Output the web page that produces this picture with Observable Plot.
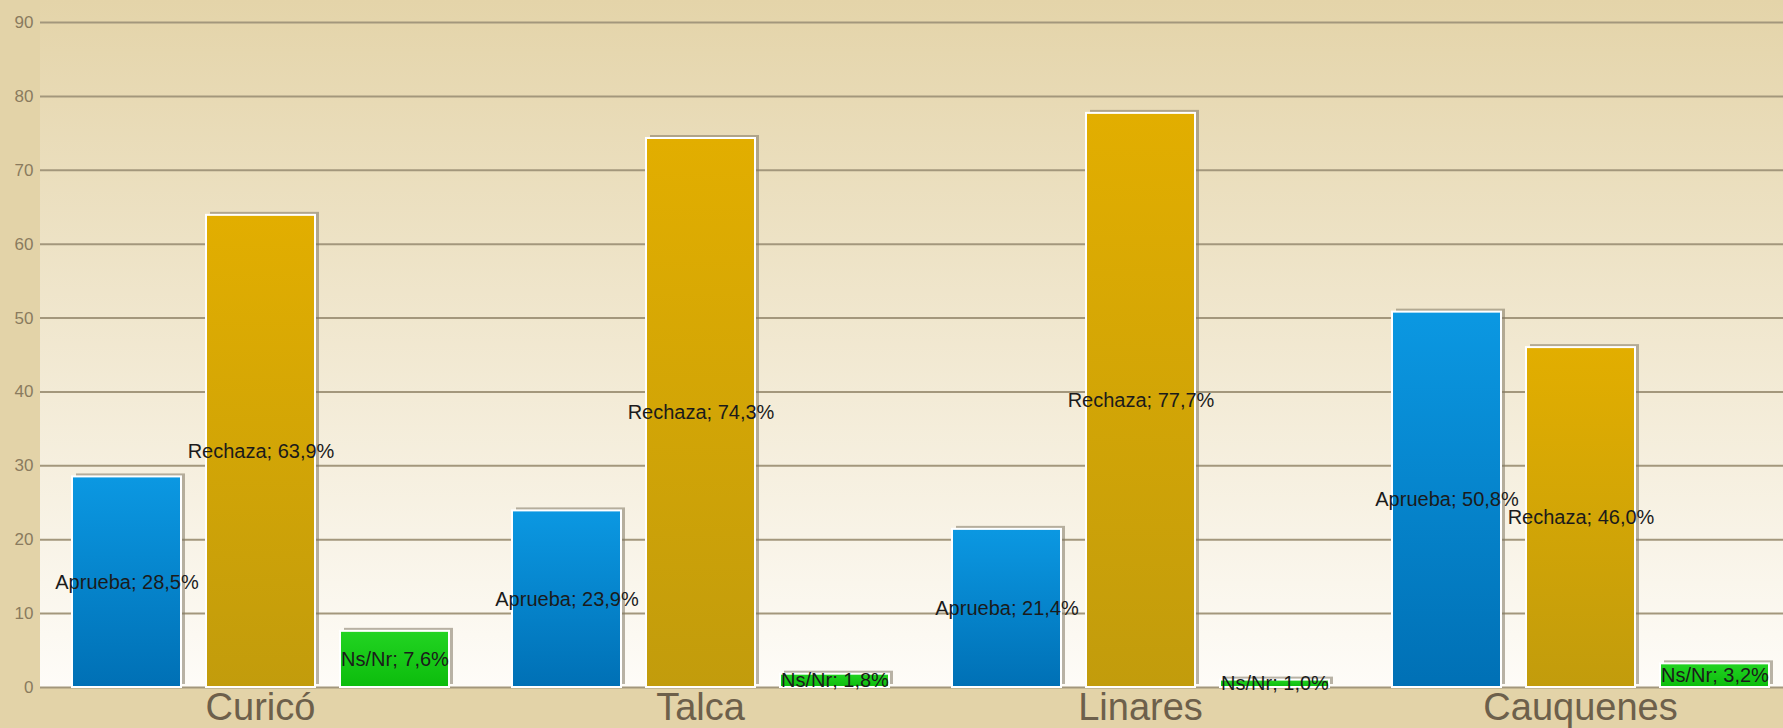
<!DOCTYPE html>
<html><head><meta charset="utf-8">
<script src="https://cdn.jsdelivr.net/npm/d3@7"></script>
<script src="https://cdn.jsdelivr.net/npm/@observablehq/plot@0.6"></script>
<style>
html,body{margin:0;padding:0;background:#e3d3a8;overflow:hidden}
</style></head><body><div id="chart"></div>
<script>
const cities = ["Curicó", "Talca", "Linares", "Cauquenes"];
const series = ["Aprueba", "Rechaza", "Ns/Nr"];
const aprueba = [28.5, 23.9, 21.4, 50.8];
const rechaza = [63.9, 74.3, 77.7, 46.0];
const nsnr = [7.6, 1.8, 1.0, 3.2];
const yTicks = [0, 10, 20, 30, 40, 50, 60, 70, 80, 90];

const data = [];
cities.forEach((c, i) => {
  [aprueba, rechaza, nsnr].forEach((arr, j) => data.push({city: c, series: series[j], value: arr[i]}));
});
const fmt = v => v.toFixed(1).replace(".", ",") + "%";

const plot = Plot.plot({
  width: 1783, height: 728,
  marginLeft: 40, marginTop: 22, marginBottom: 41, marginRight: 0,
  style: {background: "transparent", fontFamily: "'Liberation Sans', Arial, sans-serif", overflow: "hidden"},
  fx: {domain: cities, range: [40, 1800], padding: 0, label: null},
  x: {domain: series, paddingInner: 0.19, paddingOuter: 0.225, axis: null},
  y: {domain: [0, 90], label: null},
  color: {domain: series, range: ["url(#gA)", "url(#gR)", "url(#gN)"]},
  marks: [
    Plot.ruleY(yTicks, {stroke: "#a3977c", strokeWidth: 2}),
    Plot.axisY({ticks: yTicks, tickSize: 0, tickPadding: 7, fontSize: 17, fill: "#8a7b5e", label: null}),
    Plot.axisFx({anchor: "bottom", tickSize: 0, tickPadding: 6, fontSize: 38, fill: "#6d604b", label: null}),
    Plot.barY(data, {fx: "city", x: "series", y: "value", fill: "#7f7662", fillOpacity: 0.55, dx: 4, dy: -3}),
    Plot.barY(data, {fx: "city", x: "series", y: "value", fill: "series", stroke: "#ffffff", strokeWidth: 2}),
    Plot.text(data, {fx: "city", x: "series", y: d => d.value / 2, text: d => `${d.series}; ${fmt(d.value)}`, fontSize: 20, fill: "#1b1b1b"})
  ]
});

const NS = "http://www.w3.org/2000/svg";
function grad(id, top, bottom) {
  const g = document.createElementNS(NS, "linearGradient");
  g.setAttribute("id", id);
  g.setAttribute("x1", "0"); g.setAttribute("y1", "0");
  g.setAttribute("x2", "0"); g.setAttribute("y2", "1");
  [[0, top], [1, bottom]].forEach(([o, c]) => {
    const s = document.createElementNS(NS, "stop");
    s.setAttribute("offset", o);
    s.setAttribute("stop-color", c);
    g.appendChild(s);
  });
  return g;
}
const defs = document.createElementNS(NS, "defs");
defs.appendChild(grad("gA", "#0b98e2", "#0070b5"));
defs.appendChild(grad("gR", "#e2ae00", "#c29c0c"));
defs.appendChild(grad("gN", "#22d422", "#0cbc0c"));
defs.appendChild(grad("gBg", "#e4d4a9", "#fefcf8"));
const y0 = plot.scale("y").apply(0);
const fxr = plot.scale("fx").range;
const bg = document.createElementNS(NS, "rect");
bg.setAttribute("x", fxr[0]);
bg.setAttribute("y", 0);
bg.setAttribute("width", 1783 - fxr[0]);
bg.setAttribute("height", y0);
bg.setAttribute("fill", "url(#gBg)");
plot.insertBefore(bg, plot.firstChild);
plot.insertBefore(defs, plot.firstChild);
document.getElementById("chart").appendChild(plot);
</script></body></html>
